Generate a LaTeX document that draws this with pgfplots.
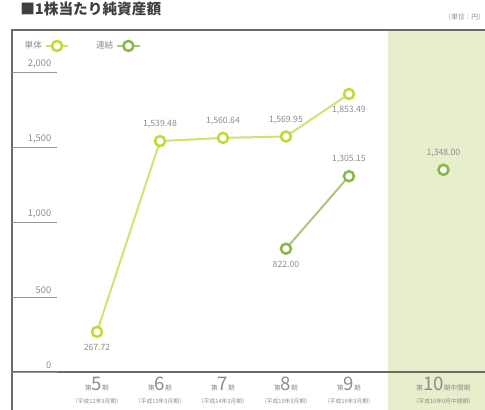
\documentclass[border=0pt]{standalone}
\usepackage{pgfplots}
\pgfplotsset{compat=1.18}
\usepackage{fontspec}
\setmainfont{Noto Sans CJK JP}
\definecolor{tanCol}{HTML}{C6D838}
\definecolor{tanLine}{HTML}{D4E16E}
\definecolor{renCol}{HTML}{88B848}
\definecolor{renLine}{HTML}{B0C47E}
\definecolor{bgGreen}{HTML}{E6EECB}
\definecolor{txt}{HTML}{8C8C8C}
\definecolor{frame}{HTML}{6A6A6A}
\newcommand{\cat}[3]{{\fontsize{5}{6}\selectfont 第}{\fontsize{14}{13}\selectfont #1}{\fontsize{5}{6}\selectfont #2}\\[-2pt]{\fontsize{4.3}{5}\selectfont （#3）}}
\begin{document}
\begin{tikzpicture}
\begin{axis}[
  scale only axis, width=354.75pt, height=285pt,
  xmin=-1.35, xmax=6.16, ymin=-253.3, ymax=2280,
  axis line style={draw=none},
  clip=false,
  axis on top=true,
  xtick={0,1,2,3,4,5.5},
  xticklabels={{\cat{5}{期}{平成12年3月期}},{\cat{6}{期}{平成13年3月期}},{\cat{7}{期}{平成14年3月期}},{\cat{8}{期}{平成15年3月期}},{\cat{9}{期}{平成16年3月期}},{\cat{10}{期中間期}{平成16年9月中間期}}},
  xtick style={draw=none},
  xticklabel style={anchor=south, align=center, yshift=1pt, text=txt},
  ytick={0,500,1000,1500,2000},
  yticklabels={0,500,{1,000},{1,500},{2,000}},
  ytick pos=left, tick align=inside, major tick length=33.75pt,
  ytick style={draw=frame!70, line width=0.6pt},
  yticklabel style={anchor=south east, xshift=33pt, yshift=-1pt, font=\fontsize{7}{8}\selectfont, text=txt},
  /pgf/number format/assume math mode=true,
  unbounded coords=jump,
  point meta=explicit symbolic,
  visualization depends on={value \thisrow{a} \as \anc},
  nodes near coords,
  nodes near coords style={anchor=\anc, font=\fontsize{6.5}{7}\selectfont, text=txt, inner xsep=0pt, inner ysep=8.5pt},
  legend plot pos=right,
  legend style={at={(axis description cs:0.012,0.985)}, anchor=north west, draw=none, fill=none, legend columns=2, font=\fontsize{6.5}{7}\selectfont, text=txt, /tikz/every even column/.append style={column sep=18pt}},
]
\fill[bgGreen] (axis cs:4.62,-253.3) rectangle (axis cs:6.16,2280);
\addplot[tanLine, line width=1.5pt, mark=*, mark size=3.75pt, mark options={draw=tanCol, fill=white, line width=1.9pt}]
  table[meta=lab] {
x y lab a
0 267.72 267.72 north
1 1539.48 1,539.48 south
2 1560.64 1,560.64 south
3 1569.95 1,569.95 south
4 1853.49 1,853.49 north
};
\addlegendentry{単体}
\addplot[renLine, line width=1.5pt, mark=*, mark size=3.75pt, mark options={draw=renCol, fill=white, line width=1.9pt}]
  table[meta=lab] {
x y lab a
3 822.00 822.00 north
4 1305.15 1,305.15 south
4.75 nan x south
5.5 1348.00 1,348.00 south
};
\addlegendentry{連結}
\draw[frame, line width=1pt] (rel axis cs:0,0) -- (rel axis cs:0,1) -- (rel axis cs:1,1);
\draw[frame, line width=1.3pt] (axis cs:-1.35,0) -- (axis cs:6.16,0);
\node[anchor=south east, font=\fontsize{5}{6}\selectfont, text=txt, inner sep=0pt] at ([yshift=7pt]rel axis cs:1,1) {（単位：円）};
\node[anchor=base west, font=\fontsize{11}{12}\selectfont\bfseries, text=black!75, inner sep=0pt] at ([xshift=6pt, yshift=11.5pt]rel axis cs:0,1) {■1株当たり純資産額};
\end{axis}
\pgfresetboundingbox
\path ([xshift=-9pt]current axis.south west) rectangle ([yshift=22.5pt]current axis.north east);
\end{tikzpicture}
\end{document}
